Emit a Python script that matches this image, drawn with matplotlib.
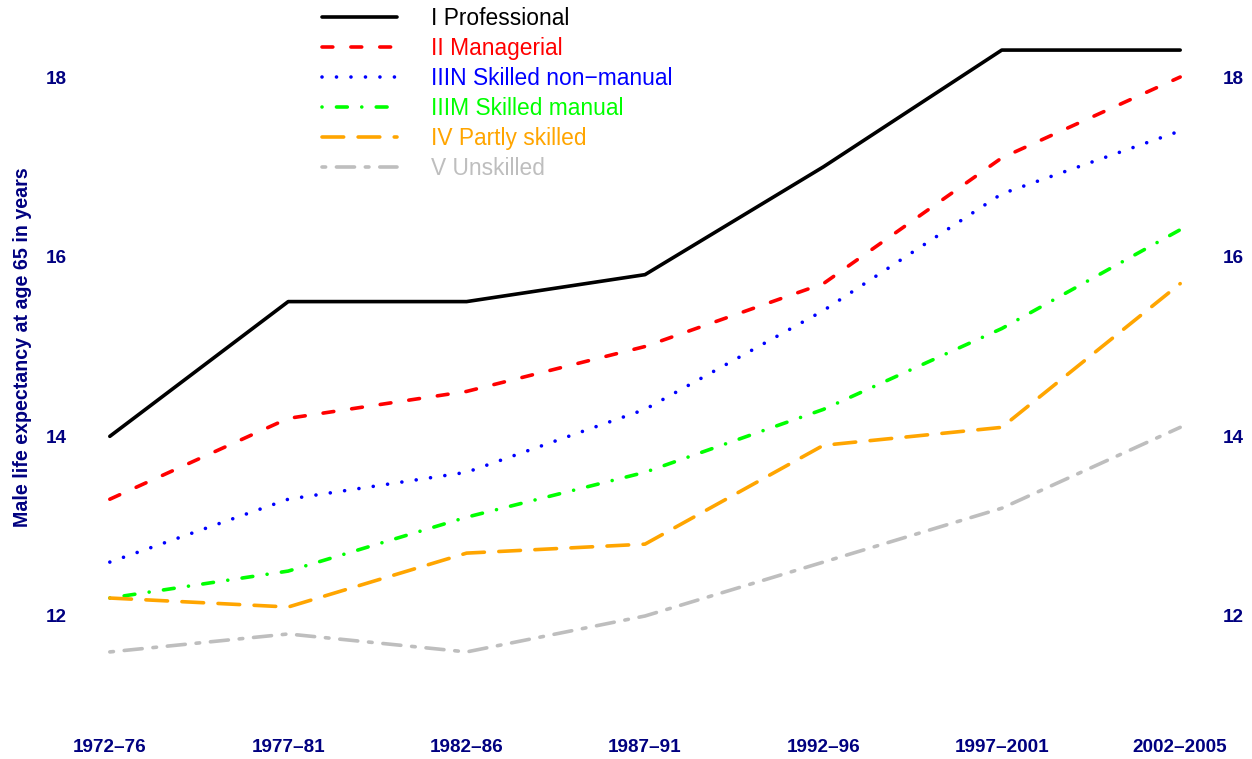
import matplotlib
matplotlib.use("Agg")
import matplotlib.pyplot as plt

periods = ["1972\u201376", "1977\u201381", "1982\u201386", "1987\u201391",
           "1992\u201396", "1997\u20132001", "2002\u20132005"]
professional = [14.0, 15.5, 15.5, 15.8, 17.0, 18.3, 18.3]
managerial = [13.3, 14.2, 14.5, 15.0, 15.7, 17.1, 18.0]
skilled_nonmanual = [12.6, 13.3, 13.6, 14.3, 15.4, 16.7, 17.4]
skilled_manual = [12.2, 12.5, 13.1, 13.6, 14.3, 15.2, 16.3]
partly_skilled = [12.2, 12.1, 12.7, 12.8, 13.9, 14.1, 15.7]
unskilled = [11.6, 11.8, 11.6, 12.0, 12.6, 13.2, 14.1]

labels = ["I Professional", "II Managerial", "IIIN Skilled non\u2212manual",
          "IIIM Skilled manual", "IV Partly skilled", "V Unskilled"]
series = [professional, managerial, skilled_nonmanual, skilled_manual,
          partly_skilled, unskilled]
colors = ["black", "#FF0000", "#0000FF", "#00FF00", "#FFA500", "#BEBEBE"]
dashes = [None, (3, 5), (0.01, 4), (0.01, 4, 3, 4), (6, 4), (1, 3, 5, 3)]
yticks = [12, 14, 16, 18]

plt.rcParams['font.family'] = ['Liberation Sans', 'DejaVu Sans']
fig = plt.figure(figsize=(12.52, 7.59), dpi=100)
W, H = 1252, 759
ax = fig.add_axes([67 / W, 1 - 676 / H, (1223 - 67) / W, (676 - 26) / H])

x = list(range(1, len(periods) + 1))
lines = []
for vals, lab, c, d in zip(series, labels, colors, dashes):
    kw = dict(color=c, lw=2.6, label=lab, solid_capstyle='round',
              dash_capstyle='round')
    if d is not None:
        kw['dashes'] = d
    ln, = ax.plot(x, vals, **kw)
    lines.append(ln)

ax.set_xlim(0.76, 7.24)
ax.set_ylim(11.332, 18.568)
for s in ax.spines.values():
    s.set_visible(False)
ax.set_xticks(x)
ax.set_xticklabels(periods)
ax.set_yticks(yticks)
ax.set_yticklabels([str(v) for v in yticks])
ax.tick_params(axis='x', length=0, pad=45, labelsize=13.6, labelcolor='#000080')
ax.tick_params(axis='y', length=0, pad=0, labelsize=13.6, labelcolor='#000080',
               left=True, right=True, labelleft=True, labelright=True)
for t in ax.get_xticklabels() + ax.get_yticklabels():
    t.set_fontweight('bold')

fig.text(23 / W, 1 - 347 / H, "Male life expectancy at age 65 in years",
         rotation=90, ha='center', va='center', fontsize=14.1,
         fontweight='bold', color='#000080')

leg = ax.legend(handles=lines, loc='upper left',
                bbox_to_anchor=(322 / W, 1 - 7 / H),
                bbox_transform=fig.transFigure, frameon=False,
                fontsize=16.4, borderpad=0, borderaxespad=0,
                handlelength=3.3, handletextpad=1.5, labelspacing=0.31,
                labelcolor='linecolor')

fig.savefig("out.png", dpi=100)
